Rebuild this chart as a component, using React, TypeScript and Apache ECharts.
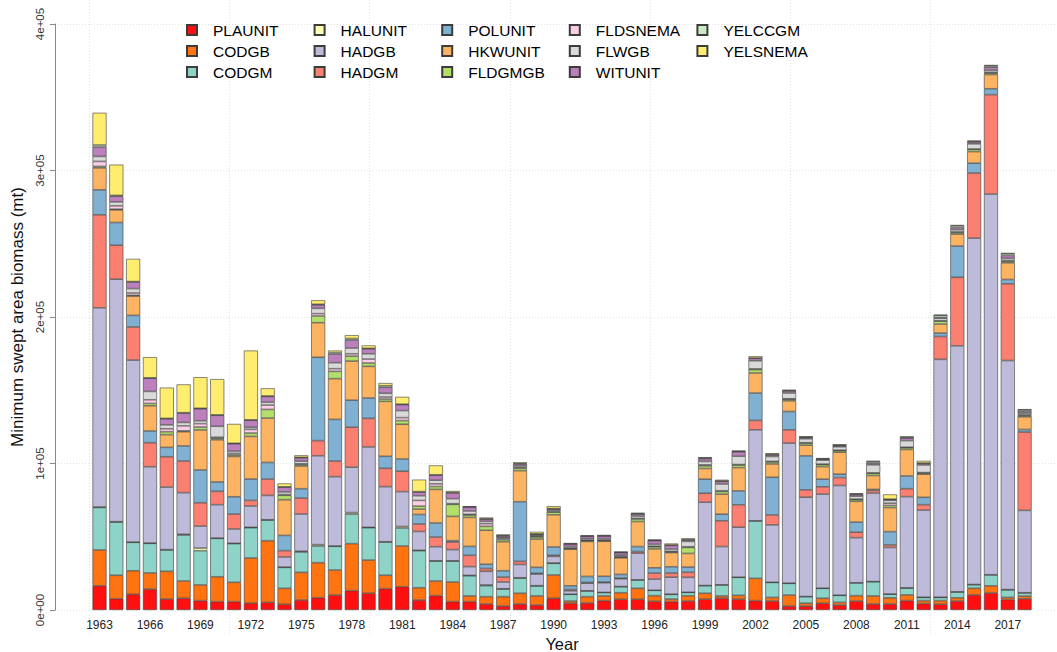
import React, { useEffect, useRef } from "react";
import * as echarts from "echarts";

// Values in thousands of metric tons (kt); multiplied by SCALE when building series
const SCALE = 1000;

const years = [
  "1963","1964","1965","1966","1967","1968","1969","1970","1971","1972",
  "1973","1974","1975","1976","1977","1978","1979","1980","1981","1982",
  "1983","1984","1985","1986","1987","1988","1989","1990","1991","1992",
  "1993","1994","1995","1996","1997","1998","1999","2000","2001","2002",
  "2003","2004","2005","2006","2007","2008","2009","2010","2011","2012",
  "2013","2014","2015","2016","2017","2018",
];

const PLAUNIT = [16.5,7.7,10.7,14.3,7.5,8.0,6.4,5.7,5.7,4.6,5.2,3.9,6.8,8.4,10.2,13.2,11.4,14.6,15.9,6.8,9.8,5.7,5.7,4.1,2.7,4.1,3.4,8.0,4.6,4.8,6.4,7.3,7.3,5.9,5.7,6.1,7.3,8.0,7.3,6.4,6.1,2.7,2.7,4.6,3.4,6.1,4.1,4.1,6.4,4.4,3.9,6.1,10.3,11.6,7.1,7.6];
const CODGB = [24.5,16.0,16.1,11.0,18.9,11.8,10.7,17.0,13.2,30.9,42.1,10.9,18.9,23.9,17.1,32.1,22.7,9.1,27.8,8.4,10.0,13.4,3.9,5.0,6.4,7.3,6.2,15.9,1.5,4.3,3.2,4.5,7.5,3.9,1.8,3.6,4.1,1.6,2.7,15.2,2.5,7.5,1.9,3.4,1.8,3.7,5.5,4.2,3.9,2.0,2.5,2.2,4.5,4.9,1.5,1.9];
const CODGM = [29.0,36.3,19.4,20.2,14.6,31.4,23.4,26.2,26.4,20.7,14.1,14.3,13.9,11.4,16.2,20.2,22.1,22.7,12.3,25.3,13.6,14.3,13.8,7.5,5.2,10.4,6.8,8.0,4.6,3.9,2.3,4.1,5.7,3.6,3.2,2.3,5.2,7.5,12.3,39.2,10.2,8.0,4.5,6.8,4.8,8.7,9.7,2.5,4.7,2.2,2.2,4.0,2.5,7.5,5.2,2.2];
const HALUNIT = [0.3,0.3,0.2,0.2,0.2,0.5,1.8,0.2,0.2,0.2,0.2,0.2,0.5,0.9,0.2,1.0,0.2,0.2,1.0,0.2,0.2,0.2,0.2,0.5,0.2,0.2,0.2,0.2,0.1,0.1,0.1,0.1,0.1,0.1,0.1,0.1,0.1,0.1,0.1,0.1,0.1,0.1,0.1,0.1,0.1,0.1,0.1,0.1,0.1,0.1,0.1,0.1,0.1,0.1,0.1,0.1];
const HADGB = [136.0,165.5,124.2,52.1,42.7,28.4,15.0,22.8,9.8,14.6,16.6,6.9,25.4,60.7,47.3,31.0,54.9,37.6,23.8,12.9,9.6,7.6,6.0,9.3,4.6,9.1,8.0,4.5,2.3,5.2,6.6,5.3,18.2,7.6,11.6,10.2,56.9,26.1,34.1,62.1,39.2,95.6,67.8,64.2,74.9,30.8,60.4,31.8,62.3,59.5,162.4,167.9,236.5,259.8,156.4,56.2];
const HADGM = [63.5,23.2,22.6,16.4,20.7,21.6,15.9,9.1,10.2,3.8,11.2,4.3,10.9,10.3,10.7,27.3,19.5,12.5,13.9,5.1,6.6,5.2,7.7,1.9,3.4,2.1,0.4,0.7,0.9,0.5,0.5,0.5,1.1,4.1,2.8,3.4,6.1,17.6,15.3,6.4,6.8,9.1,5.0,5.0,5.4,3.7,1.8,1.7,5.4,3.7,15.6,46.8,44.4,67.9,52.4,53.5];
const POLUNIT = [17.0,15.5,7.9,8.0,6.4,10.3,22.4,6.4,11.8,14.6,11.3,10.4,6.4,56.9,28.4,18.4,13.9,8.2,8.4,6.5,9.6,0.9,6.1,2.9,4.3,40.7,4.1,5.7,2.5,4.1,3.9,2.5,3.4,3.6,4.3,3.6,9.6,4.5,9.5,18.7,25.7,12.5,23.2,5.2,2.3,6.9,0.7,9.1,8.7,5.0,2.3,21.3,6.7,4.0,2.9,1.7];
const HKWUNIT = [15.0,8.6,13.2,17.2,8.7,9.7,27.3,28.8,27.5,29.1,30.3,24.4,15.5,23.6,27.8,26.7,21.6,37.5,23.7,3.7,22.9,16.6,19.8,23.2,19.8,21.2,19.3,22.0,25.0,23.9,23.9,11.3,17.1,12.9,9.7,9.3,7.3,13.7,15.9,13.7,9.1,7.3,7.3,8.6,15.0,14.2,9.5,16.4,18.1,15.8,6.2,8.2,7.9,9.7,11.4,8.7];
const FLDGMGB = [1.0,0.5,0.5,1.6,2.0,0.6,2.0,1.0,1.0,2.3,5.9,3.0,1.0,4.6,5.0,3.4,2.3,1.6,2.5,2.0,2.0,8.2,1.6,2.7,1.4,1.6,1.4,1.8,0.5,0.5,0.5,0.5,1.8,1.4,0.5,4.1,1.8,1.8,1.8,2.3,1.4,1.1,1.4,1.4,1.1,1.2,1.5,1.5,1.2,0.8,2.0,1.0,1.5,1.0,1.0,0.8];
const FLDSNEMA = [3.4,2.3,1.6,2.5,2.0,3.4,2.3,0.7,1.1,2.5,3.0,0.5,0.5,1.6,1.8,1.6,2.7,1.4,2.0,3.9,1.8,0.5,0.5,1.8,0.9,0.7,0.5,0.4,0.3,0.3,0.3,0.3,0.3,0.5,0.3,0.5,0.7,0.5,0.3,0.5,0.3,0.3,0.3,0.3,0.3,0.3,0.3,1.5,0.3,0.3,0.3,0.5,0.3,0.5,0.5,0.5];
const FLWGB = [3.4,2.7,3.0,5.7,2.7,2.3,2.0,7.5,1.6,1.4,2.0,1.8,1.8,3.6,4.1,3.9,3.6,2.5,4.8,3.2,2.5,3.4,2.3,1.6,0.7,1.1,0.8,1.0,1.0,1.0,1.0,1.0,1.6,1.4,1.6,3.6,2.3,4.6,5.7,5.5,3.4,3.9,2.7,2.7,2.3,2.0,5.5,2.0,4.5,5.2,1.7,1.5,3.5,1.5,1.5,1.2];
const WITUNIT = [6.4,3.9,4.5,9.0,4.1,6.4,8.2,7.5,5.0,4.8,3.9,3.2,2.3,2.3,5.9,5.5,3.4,4.1,4.1,2.5,3.4,3.9,2.5,1.5,1.0,1.2,0.6,0.8,1.6,1.6,1.7,1.7,1.4,2.3,2.5,1.0,1.8,1.8,3.0,1.6,1.1,1.4,0.8,0.6,0.8,1.0,1.2,0.5,1.7,1.0,0.5,1.5,1.2,2.0,2.0,1.2];
const YELCCGM = [1.4,0.5,0.3,0.3,0.3,0.3,0.3,0.3,0.3,0.3,0.3,0.3,0.3,0.5,1.0,1.0,0.3,1.1,0.3,0.3,0.3,0.3,0.3,0.3,0.3,0.3,0.3,0.3,0.3,0.3,0.3,0.3,0.3,0.3,0.3,0.3,0.6,0.3,0.3,0.3,0.3,0.3,0.3,0.3,0.3,0.5,1.0,0.3,0.6,0.3,1.5,1.2,0.5,1.0,1.2,1.0];
const YELSNEMA = [22.0,21.0,15.5,14.1,21.0,19.3,21.2,24.4,13.2,47.3,5.2,2.3,1.4,2.7,1.4,2.3,2.0,1.8,5.0,8.2,6.4,1.0,0.5,0.8,0.6,0.8,1.4,1.6,0.5,0.5,0.5,0.5,0.5,0.5,1.0,0.8,0.5,0.8,0.5,1.2,0.8,0.5,0.6,0.5,0.6,0.5,0.5,3.2,0.6,1.5,0.3,0.5,0.5,0.5,0.5,0.5];

const seriesNames = ["PLAUNIT","CODGB","CODGM","HALUNIT","HADGB","HADGM","POLUNIT","HKWUNIT","FLDGMGB","FLDSNEMA","FLWGB","WITUNIT","YELCCGM","YELSNEMA"];
const seriesValues = [PLAUNIT,CODGB,CODGM,HALUNIT,HADGB,HADGM,POLUNIT,HKWUNIT,FLDGMGB,FLDSNEMA,FLWGB,WITUNIT,YELCCGM,YELSNEMA];
const seriesColors = ["#FF0F0F","#FF7411","#8DD3C7","#FFFFB3","#BEBADA","#FB8072","#80B1D3","#FDB462","#B3DE69","#FCCDE5","#D9D9D9","#BC80BD","#CCEBC5","#FFED6F"];

const yTicks = [0, 100000, 200000, 300000, 400000];
const yTickLabels = ["0e+00", "1e+05", "2e+05", "3e+05", "4e+05"];

const FONT = "'Liberation Sans', Arial, Helvetica, sans-serif";

export default function App() {
  const ref = useRef<HTMLDivElement>(null);

  useEffect(() => {
    if (!ref.current) return;
    const chart = echarts.init(ref.current, undefined, { renderer: "svg" });

    const series = seriesNames.map((name, i) => ({
      name,
      type: "bar",
      stack: "total",
      xAxisIndex: 0,
      yAxisIndex: 0,
      barCategoryGap: "16.7%",
      data: seriesValues[i].map((v) => v * SCALE),
      itemStyle: { color: seriesColors[i], borderColor: "#3c3c3c", borderWidth: 0.6 },
      emphasis: { disabled: true },
    }));

    const legendCols = [0, 1, 2, 3, 4].map((c) => ({
      orient: "vertical",
      left: 186 + c * 127.6,
      top: 22,
      padding: 0,
      itemWidth: 10,
      itemHeight: 10,
      itemGap: 5,
      icon: "rect",
      selectedMode: false,
      data: seriesNames.slice(c * 3, c * 3 + 3),
      textStyle: { fontSize: 15.5, lineHeight: 15, color: "#000", fontFamily: FONT, padding: [0, 0, 0, 11] },
    }));

    chart.setOption({
      animation: false,
      textStyle: { fontFamily: FONT },
      legend: legendCols,
      grid: [
        { left: 91.1, top: 24, width: 941.9, height: 586, outerBoundsMode: "none", containLabel: false },
        { left: 89.3, top: 0, width: 981.4, height: 634, outerBoundsMode: "none", containLabel: false },
        { left: 55, top: 24, width: 1015, height: 586, outerBoundsMode: "none", containLabel: false },
      ],
      xAxis: [
        {
          type: "category",
          gridIndex: 0,
          data: years,
          axisLine: { show: false },
          axisTick: { show: false },
          axisLabel: { interval: 2, fontSize: 12, color: "#222", margin: 9, fontFamily: FONT },
          name: "Year",
          nameLocation: "middle",
          nameGap: 23,
          nameTextStyle: { fontSize: 16.5, lineHeight: 16, color: "#111", fontFamily: FONT },
        },
        {
          type: "value",
          gridIndex: 1,
          min: 0,
          max: 70,
          interval: 10,
          axisLine: { show: false },
          axisTick: { show: false },
          axisLabel: { show: false },
          splitLine: { show: true, lineStyle: { color: "#e2e2e2", type: [1, 2], width: 1 } },
        },
        { type: "value", gridIndex: 2, show: false, min: 0, max: 1 },
      ],
      yAxis: [
        { type: "value", gridIndex: 0, show: false, min: 0, max: 400000 },
        { type: "value", gridIndex: 1, show: false, min: 0, max: 1 },
        {
          type: "value",
          gridIndex: 2,
          min: 0,
          max: 400000,
          interval: 100000,
          axisLine: { show: true, lineStyle: { color: "#888", width: 1 } },
          axisTick: { show: true, length: 5, lineStyle: { color: "#888" } },
          axisLabel: {
            rotate: 90,
            fontSize: 11.5,
            color: "#333",
            margin: 9,
            fontFamily: FONT,
            formatter: (v: number) => {
              const idx = yTicks.indexOf(v);
              return idx >= 0 ? yTickLabels[idx] : "";
            },
          },
          splitLine: { show: true, lineStyle: { color: "#e2e2e2", type: [1, 2], width: 1 } },
          name: "Minimum swept area biomass (mt)",
          nameLocation: "middle",
          nameGap: 29,
          nameTextStyle: { fontSize: 17, color: "#111", fontFamily: FONT },
        },
      ],
      series,
    });

    return () => chart.dispose();
  }, []);

  return (
    <div
      ref={ref}
      style={{ position: "fixed", left: 0, top: 0, width: 1057, height: 652, background: "#fff" }}
    />
  );
}
